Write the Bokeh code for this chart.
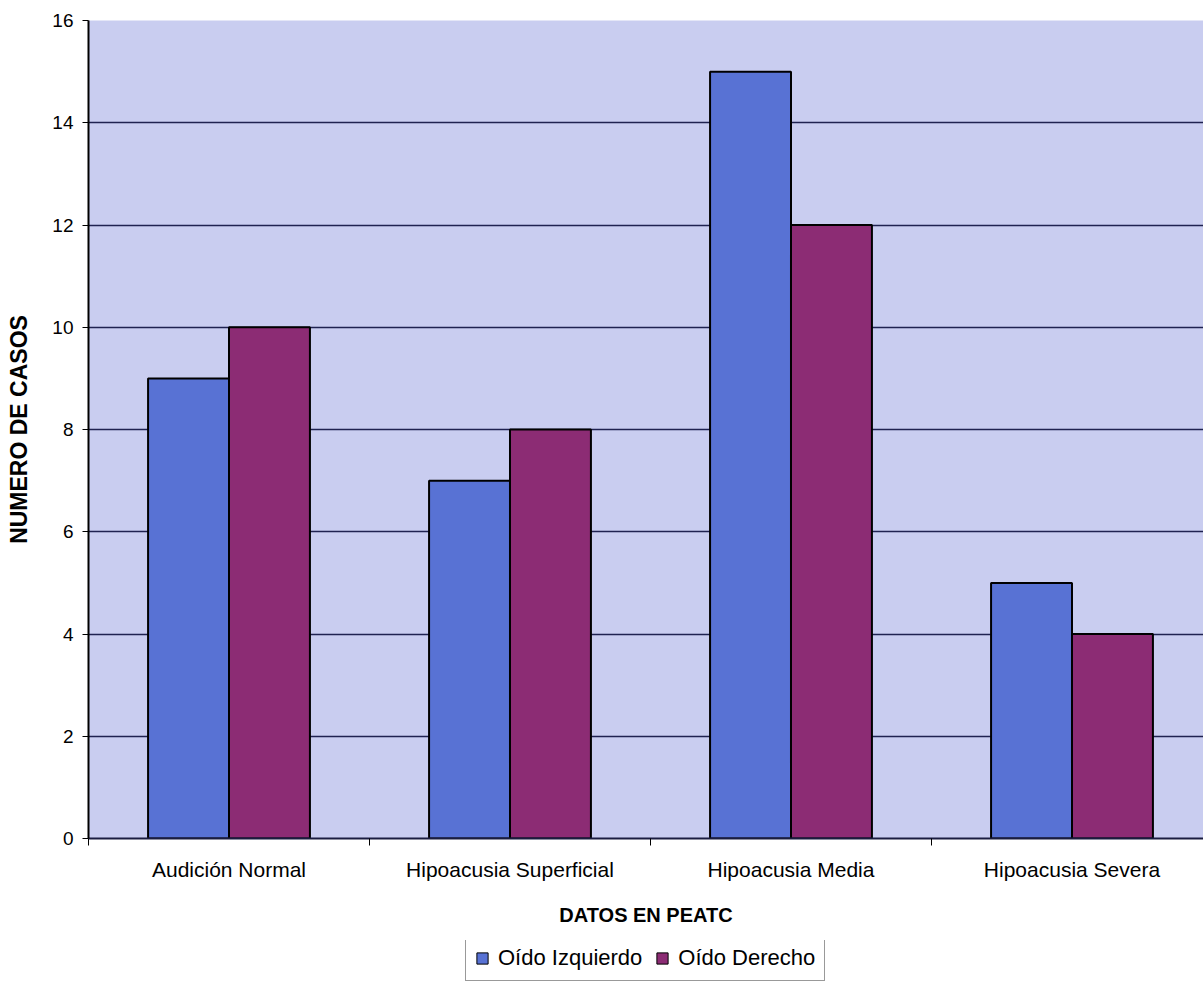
from bokeh.plotting import figure
from bokeh.layouts import column
from bokeh.models import (Range1d, FixedTicker, Legend, LegendItem, ColumnDataSource)
from bokeh.embed import file_html
from bokeh.resources import INLINE

# Cases per PEATC finding, left and right ear
categories = ["Audición Normal", "Hipoacusia Superficial", "Hipoacusia Media", "Hipoacusia Severa"]
oido_izquierdo = [9, 7, 15, 5]
oido_derecho = [10, 8, 12, 4]
series_names = ["Oído Izquierdo", "Oído Derecho"]
y_ticks = [0, 2, 4, 6, 8, 10, 12, 14, 16]

BLUE = "#5872d4"
PURPLE = "#8c2c74"
FONT = "Liberation Sans"

centers = [i + 0.5 for i in range(len(categories))]
bar_w = 0.288

src_left = ColumnDataSource(dict(x=[c - bar_w / 2 for c in centers], top=oido_izquierdo))
src_right = ColumnDataSource(dict(x=[c + bar_w / 2 for c in centers], top=oido_derecho))

p = figure(width=1203, height=940, output_backend="svg", toolbar_location=None,
           x_range=Range1d(0, 3.968), y_range=Range1d(0, 16),
           min_border_left=88, min_border_right=0, min_border_top=20, min_border_bottom=102)

p.background_fill_color = "#c9cdf0"
p.border_fill_color = "white"
p.outline_line_color = None

p.vbar(x="x", top="top", width=bar_w, source=src_left,
       fill_color=BLUE, line_color="black", line_width=2)
p.vbar(x="x", top="top", width=bar_w, source=src_right,
       fill_color=PURPLE, line_color="black", line_width=2)

# y axis
p.yaxis.ticker = FixedTicker(ticks=y_ticks)
p.yaxis.axis_label = "NUMERO DE CASOS"
p.yaxis.axis_label_text_font = FONT
p.yaxis.axis_label_text_font_style = "bold"
p.yaxis.axis_label_text_font_size = "23px"
p.yaxis.axis_label_text_color = "black"
p.yaxis.axis_label_standoff = 17
p.yaxis.major_label_text_font = FONT
p.yaxis.major_label_text_font_size = "19px"
p.yaxis.major_label_text_color = "black"
p.yaxis.major_label_standoff = 9
p.yaxis.major_tick_out = 6
p.yaxis.major_tick_in = 0
p.yaxis.minor_tick_line_color = None
p.yaxis.axis_line_color = "black"
p.yaxis.axis_line_width = 2
p.yaxis.major_tick_line_color = "black"

# x axis: category names at centres, tick marks between groups
p.xaxis.ticker = FixedTicker(ticks=centers, minor_ticks=[0, 1, 2, 3])
p.xaxis.major_label_overrides = {c: name for c, name in zip(centers, categories)}
p.xaxis.major_tick_line_color = None
p.xaxis.major_tick_out = 0
p.xaxis.major_tick_in = 0
p.xaxis.minor_tick_out = 7
p.xaxis.minor_tick_in = 0
p.xaxis.minor_tick_line_color = "black"
p.xaxis.axis_line_color = "#1a1c40"
p.xaxis.axis_line_width = 2
p.xaxis.major_label_text_font = FONT
p.xaxis.major_label_text_font_size = "21px"
p.xaxis.major_label_text_color = "black"
p.xaxis.major_label_standoff = 12
p.xaxis.axis_label = "DATOS EN PEATC"
p.xaxis.axis_label_text_font = FONT
p.xaxis.axis_label_text_font_style = "bold"
p.xaxis.axis_label_text_font_size = "20px"
p.xaxis.axis_label_text_color = "black"
p.xaxis.axis_label_standoff = 20

p.xgrid.grid_line_color = None
p.ygrid.ticker = FixedTicker(ticks=y_ticks[1:])
p.ygrid.grid_line_color = "#1f2250"
p.ygrid.grid_line_width = 1.5

# legend strip under the chart (its frame lines up with the chart frame)
lg = figure(width=1203, height=49, output_backend="svg", toolbar_location=None,
            x_range=Range1d(0, 1), y_range=Range1d(0, 1),
            x_axis_type=None, y_axis_type=None,
            min_border_left=88, min_border_right=0, min_border_top=0, min_border_bottom=0)
lg.outline_line_color = None
lg.background_fill_color = "white"
lg.border_fill_color = "white"
lg.xgrid.grid_line_color = None
lg.ygrid.grid_line_color = None
nan = float("nan")
key_left = lg.vbar(x=[nan], top=[nan], width=0.1, fill_color=BLUE, line_color="black", line_width=1)
key_right = lg.vbar(x=[nan], top=[nan], width=0.1, fill_color=PURPLE, line_color="black", line_width=1)

legend = Legend(items=[LegendItem(label=series_names[0], renderers=[key_left]),
                       LegendItem(label=series_names[1], renderers=[key_right])],
                orientation="horizontal", location=(377, 8))
legend.label_text_font = FONT
legend.label_text_font_size = "22px"
legend.label_text_color = "black"
legend.glyph_width = 14
legend.glyph_height = 14
legend.label_standoff = 9
legend.spacing = 13
legend.padding = 9
legend.margin = 0
legend.border_line_color = "#333333"
legend.border_line_width = 1
legend.background_fill_color = "white"
legend.background_fill_alpha = 1
lg.add_layout(legend, "center")

layout = column(p, lg, spacing=0)
open("out.html", "w").write(file_html(layout, INLINE))
